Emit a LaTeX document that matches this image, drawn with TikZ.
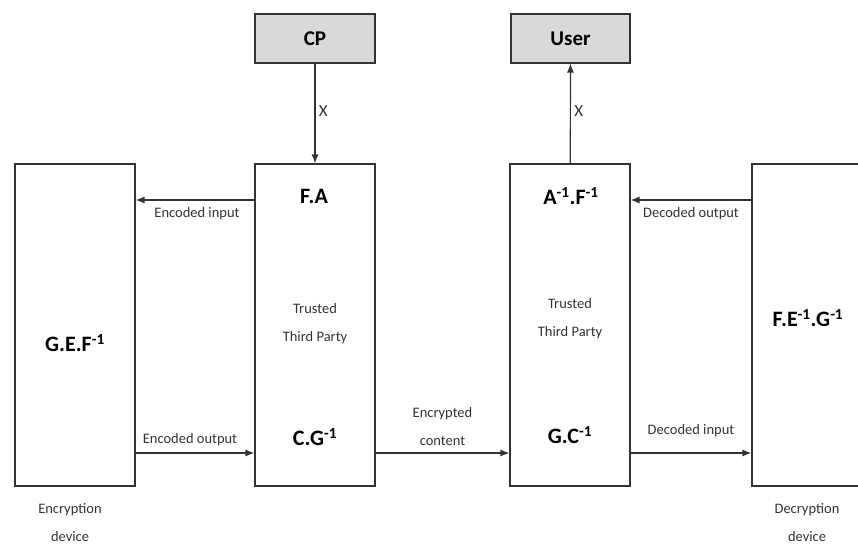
\documentclass[tikz,border=0pt]{standalone}
\usepackage{fontspec}
\setmainfont{Carlito}
\usetikzlibrary{arrows.meta}

\definecolor{boxgray}{HTML}{D9D9D9}
\definecolor{linegray}{HTML}{333333}

\tikzset{
  unit/.style={draw=linegray, line width=1.1pt, minimum width=120pt, minimum height=322pt, inner sep=0pt},
  party/.style={draw=linegray, line width=1.1pt, fill=boxgray, minimum width=120pt, minimum height=49pt, font=\fontsize{21}{23}\selectfont\bfseries},
  key/.style={font=\fontsize{22}{24}\selectfont\bfseries},
  lbl/.style={font=\fontsize{14.5}{28}\selectfont, text=black!80, align=center},
  flow/.style={-{Latex[length=9pt,width=7pt]}, line width=1.2pt, draw=linegray}
}

\begin{document}
\begin{tikzpicture}[x=1pt,y=-1pt]
    \useasboundingbox (0,0) rectangle (858,545);

    % boxes
    \node[unit] (encdev) at (75,325) {};
    \node[unit] (ttpa) at (315,325) {};
    \node[unit] (ttpb) at (570,325) {};
    \node[unit, minimum width=128pt] (decdev) at (816,325) {};
    \node[party] (cp) at (315,38.5) {CP};
    \node[party, minimum width=119pt] (user) at (570.5,38.5) {User};

    % texts inside the boxes
    \node[key] (gef) at (75,343) {G.E.F\textsuperscript{-1}};
    \node[key] (fa) at (314,196) {F.A};
    \node[key] (cg) at (315,437) {C.G\textsuperscript{-1}};
    \node[key] (af) at (571,196) {A\textsuperscript{-1}.F\textsuperscript{-1}};
    \node[key] (gc) at (570,435) {G.C\textsuperscript{-1}};
    \node[key] (feg) at (808,318) {F.E\textsuperscript{-1}.G\textsuperscript{-1}};
    \node[lbl] (ttpatxt) at (315,324) {Trusted\\Third Party};
    \node[lbl] (ttpbtxt) at (570,319) {Trusted\\Third Party};

    % device captions
    \node[lbl] (enccap) at (70,523) {Encryption\\device};
    \node[lbl] (deccap) at (807,523) {Decryption\\device};

    % heights of the flows
    \coordinate (yin) at (0,200);
    \coordinate (yout) at (0,453);

    % connectors
    \draw[flow] (cp) -- (ttpa) node[midway, right, lbl, font=\fontsize{17}{20}\selectfont, xshift=0pt, yshift=2pt] {X};
    \draw[flow] (ttpb) -- (user) node[midway, right, lbl, font=\fontsize{17}{20}\selectfont, xshift=0pt, yshift=2pt] {X};
    \draw[flow] (ttpa.west |- yin) -- (encdev.east |- yin)
        node[midway, below, lbl, yshift=-3pt, xshift=2pt] {Encoded input};
    \draw[flow] (encdev.east |- yout) -- (ttpa.west |- yout)
        node[midway, above, lbl, yshift=3pt, xshift=-5pt] {Encoded output};
    \draw[flow] (ttpa.east |- yout) -- (ttpb.west |- yout)
        node[midway, above, lbl, yshift=3pt] {Encrypted\\content};
    \draw[flow] (decdev.west |- yin) -- (ttpb.east |- yin)
        node[midway, below, lbl, yshift=-3pt] {Decoded output};
    \draw[flow] (ttpb.east |- yout) -- (decdev.west |- yout)
        node[midway, above, lbl, yshift=12pt] {Decoded input};
\end{tikzpicture}
\end{document}
